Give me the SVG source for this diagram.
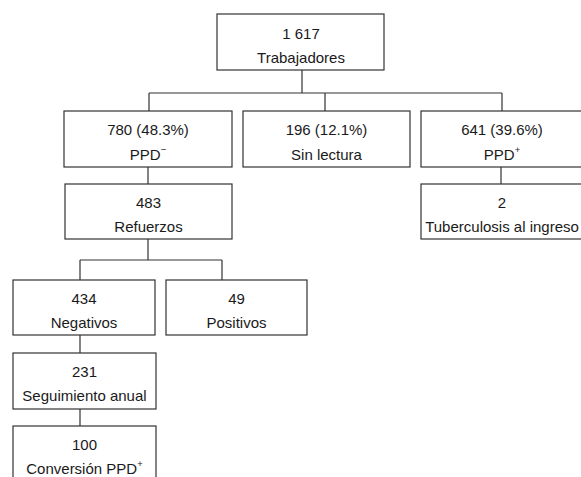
<svg xmlns="http://www.w3.org/2000/svg" width="581" height="477" viewBox="0 0 581 477">
<style>
.box{fill:#fff;stroke:#333;stroke-width:1.2}
.ln{fill:none;stroke:#333;stroke-width:1.2}
text{font-family:"Liberation Sans",Arial,sans-serif;font-size:15px;fill:#1a1a1a;text-anchor:middle}
.sup{font-size:9.5px}
</style>
<rect width="581" height="477" fill="#fff"/>
<g id="connectors">
<path class="ln" d="M302 70V93M149 93H502M149 93V111M325 93V111M502 93V111"/>
<path class="ln" d="M148 167V184M501 167V184"/>
<path class="ln" d="M148 239V260M80 260H222M80 260V280M222 260V280"/>
<path class="ln" d="M80 335V353M80 409V426"/>
</g>
<g id="n-trabajadores"><rect class="box" x="217" y="14" width="167" height="56"/><text x="301" y="38.5">1 617</text><text x="301" y="62.5">Trabajadores</text></g>
<g id="n-ppdneg"><rect class="box" x="64" y="111" width="168" height="56"/><text x="148" y="135">780 (48.3%)</text><text x="148" y="159.5">PPD<tspan class="sup" dy="-6.5">−</tspan></text></g>
<g id="n-sinlectura"><rect class="box" x="243" y="111" width="167" height="56"/><text x="326.5" y="135">196 (12.1%)</text><text x="326.5" y="159.5">Sin lectura</text></g>
<g id="n-ppdpos"><rect class="box" x="421" y="111" width="168" height="56"/><text x="502" y="135">641 (39.6%)</text><text x="502" y="159.5">PPD<tspan class="sup" dy="-6.5">+</tspan></text></g>
<g id="n-refuerzos"><rect class="box" x="65" y="184" width="167" height="55"/><text x="148.5" y="207.5">483</text><text x="148.5" y="231.5">Refuerzos</text></g>
<g id="n-tuberculosis"><rect class="box" x="421" y="184" width="168" height="55"/><text x="502" y="207.5">2</text><text x="502" y="231.5">Tuberculosis al ingreso</text></g>
<g id="n-negativos"><rect class="box" x="13" y="280" width="142" height="55"/><text x="84" y="303.5">434</text><text x="84" y="327.5">Negativos</text></g>
<g id="n-positivos"><rect class="box" x="166" y="280" width="141" height="55"/><text x="236.5" y="303.5">49</text><text x="236.5" y="327.5">Positivos</text></g>
<g id="n-seguimiento"><rect class="box" x="13" y="353" width="143" height="56"/><text x="84.5" y="377">231</text><text x="84.5" y="401">Seguimiento anual</text></g>
<g id="n-conversion"><rect class="box" x="13" y="426" width="143" height="60"/><text x="84.5" y="450">100</text><text x="84.5" y="473.5">Conversión PPD<tspan class="sup" dy="-6.5">+</tspan></text></g>
</svg>
